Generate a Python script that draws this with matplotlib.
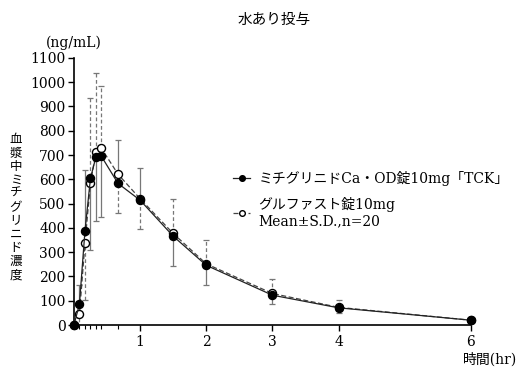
import matplotlib
matplotlib.use("Agg")
import matplotlib.pyplot as plt
import numpy as np

plt.rcParams['font.family'] = ['DejaVu Serif', 'Noto Sans CJK JP']

# 採血時間 (hr)
times = [0, 1/12, 1/6, 1/4, 1/3, 5/12, 2/3, 1, 1.5, 2, 3, 4, 6]

# ミチグリニドCa・OD錠10mg「TCK」
tck_mean = [0, 86, 387, 604, 693, 694, 583, 514, 366, 246, 123, 71, 20]
tck_sd = [0, 80, 251, 295, 265, 248, 178, 133, 123, 81, 37, 20, 5]
tck_up = [1, 1, 1, 0, 0, 0, 1, 1, 0, 0, 0, 0, 0]

# グルファスト錠10mg
glu_mean = [0, 45, 336, 586, 713, 727, 621, 520, 377, 252, 130, 73, 20]
glu_sd = [0, 55, 233, 349, 325, 256, 160, 125, 144, 98, 58, 29, 5]
glu_up = [0, 0, 0, 1, 1, 1, 0, 0, 1, 1, 1, 1, 1]

fig = plt.figure(figsize=(5.28, 3.78), dpi=100)
ax = fig.add_axes([0.140, 0.140, 0.752, 0.707])


def one_sided(mean, sd, up):
    sd = np.array(sd, float)
    up = np.array(up, bool)
    lower = np.where(up, 0, sd)
    upper = np.where(up, sd, 0)
    return [lower, upper]


eb = ax.errorbar(times, glu_mean, yerr=one_sided(glu_mean, glu_sd, glu_up),
                 fmt='none', ecolor='#777777', elinewidth=0.9, capsize=2.2,
                 capthick=0.9, zorder=2)
eb[2][0].set_linestyle((0, (3, 2)))
ax.errorbar(times, tck_mean, yerr=one_sided(tck_mean, tck_sd, tck_up),
            fmt='none', ecolor='#777777', elinewidth=0.9, capsize=2.2,
            capthick=0.9, zorder=2)

ax.plot(times, glu_mean, color='#444444', lw=0.9, ls=(0, (4, 2)),
        marker='o', ms=5.8, mfc='white', mec='black', mew=1.0,
        label='グルファスト錠10mg\nMean±S.D.,n=20', zorder=3, clip_on=False)
ax.plot(times, tck_mean, color='#222222', lw=0.9, ls='-',
        marker='o', ms=5.8, mfc='black', mec='black',
        label='ミチグリニドCa・OD錠10mg「TCK」', zorder=4, clip_on=False)

ax.set_xlim(0, 6)
ax.set_ylim(0, 1100)
ax.set_yticks(np.arange(0, 1101, 100))
ax.set_xticks([1, 2, 3, 4, 6])
ax.set_xticks(times[1:7], minor=True)
ax.tick_params(axis='both', labelsize=10, width=1.0, color='black')
ax.tick_params(axis='y', length=4, pad=2)
ax.tick_params(axis='x', which='major', length=4)
ax.tick_params(axis='x', which='minor', length=3, width=0.8)

for s in ['top', 'right']:
    ax.spines[s].set_visible(False)
for s in ['left', 'bottom']:
    ax.spines[s].set_linewidth(1.2)

handles, labels = ax.get_legend_handles_labels()
ax.legend(handles[::-1], labels[::-1], loc='upper left',
          bbox_to_anchor=(0.37, 0.625), frameon=False, fontsize=10,
          handlelength=1.2, handletextpad=0.6, labelspacing=0.8,
          markerscale=0.7)

fig.text(0.519, 0.947, '水あり投与', ha='center', va='center', fontsize=10.5)
fig.text(0.140, 0.888, '(ng/mL)', ha='center', va='center', fontsize=10)
fig.text(0.928, 0.050, '時間(hr)', ha='center', va='center', fontsize=10)

ylab = '血漿中ミチグリニド濃度'
fig.text(0.030, 0.452, '\n'.join(ylab), ha='center', va='center',
         fontsize=9, linespacing=1.05, family='Noto Sans CJK JP')

fig.savefig('out.png', dpi=100)
